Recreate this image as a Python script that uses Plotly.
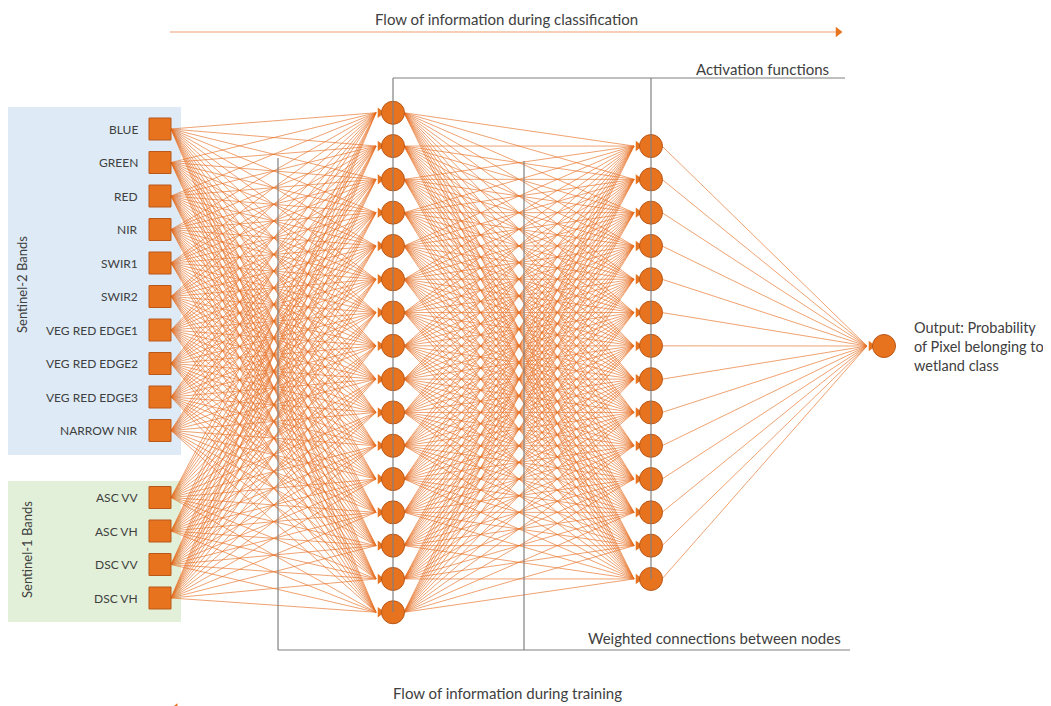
"""Neural network diagram: Sentinel-1/2 bands -> two hidden layers -> wetland probability."""
import plotly.graph_objects as go

# ---- data -----------------------------------------------------------------
s2_bands = ["BLUE", "GREEN", "RED", "NIR", "SWIR1", "SWIR2",
            "VEG RED EDGE1", "VEG RED EDGE2", "VEG RED EDGE3", "NARROW NIR"]
s1_bands = ["ASC VV", "ASC VH", "DSC VV", "DSC VH"]
hidden1_nodes = 16
hidden2_nodes = 14
output_label = "Output: Probability<br>of Pixel belonging to<br>wetland class"
group_labels = ["Sentinel-2 Bands", "Sentinel-1 Bands"]
top_caption = "Flow of information during classification"
bottom_caption = "Flow of information during training"
activation_caption = "Activation functions"
weights_caption = "Weighted connections between nodes"

# ---- layout helpers --------------------------------------------------------
ORANGE = "#E8731F"
ORANGE_EDGE = "#B9581A"
EDGE_LINE = "rgba(230,112,35,0.72)"
GRAY = "#808080"
TXT = "#404040"
FONT = "Lato, Open Sans, Arial"

W, H = 1051, 706
PAD = 8  # page body margin
X_IN, X_H1, X_H2, X_OUT = 160, 393, 651, 884
STEP = 33.3
MID = 362.5

in_labels = s2_bands + s1_bands
in_slots = list(range(len(s2_bands))) + [len(s2_bands) + 1 + i for i in range(len(s1_bands))]
y_in = [129 + 33.5 * s for s in in_slots]
y_h1 = [MID + (i - (hidden1_nodes - 1) / 2) * STEP for i in range(hidden1_nodes)]
y_h2 = [MID + (i - (hidden2_nodes - 1) / 2) * STEP for i in range(hidden2_nodes)]
y_out = [346]


def links(x0, ys0, x1, ys1):
    xs, ys = [], []
    for a in ys0:
        for b in ys1:
            xs += [x0, x1, None]
            ys += [a, b, None]
    return xs, ys


fig = go.Figure()

# group boxes
fig.add_shape(type="rect", x0=8, x1=181, y0=107, y1=455,
              fillcolor="#DEEBF7", line_width=0, layer="below")
fig.add_shape(type="rect", x0=8, x1=181, y0=481, y1=622,
              fillcolor="#E2F0D9", line_width=0, layer="below")

# connections
cx, cy = [], []
for x0, ys0, x1, ys1 in [(X_IN + 11, y_in, X_H1 - 17, y_h1),
                         (X_H1 + 11, y_h1, X_H2 - 17, y_h2),
                         (X_H2 + 11, y_h2, X_OUT - 17, y_out)]:
    xs, ys = links(x0, ys0, x1, ys1)
    cx += xs
    cy += ys
fig.add_trace(go.Scatter(x=cx, y=cy, mode="lines",
                         line=dict(color=EDGE_LINE, width=0.9),
                         hoverinfo="skip"))

# arrow heads in front of the target nodes
ax = [X_H1 - 13] * hidden1_nodes + [X_H2 - 13] * hidden2_nodes + [X_OUT - 13]
ay = y_h1 + y_h2 + y_out
fig.add_trace(go.Scatter(x=ax, y=ay, mode="markers",
                         marker=dict(symbol="triangle-right", size=9, color=ORANGE,
                                     line=dict(width=0)),
                         hoverinfo="skip"))

# input squares
fig.add_trace(go.Scatter(x=[X_IN] * len(y_in), y=y_in, mode="markers",
                         marker=dict(symbol="square", size=22, color=ORANGE,
                                     line=dict(color=ORANGE_EDGE, width=1)),
                         hoverinfo="skip"))

# hidden + output circles
nx = [X_H1] * hidden1_nodes + [X_H2] * hidden2_nodes + [X_OUT]
fig.add_trace(go.Scatter(x=nx, y=ay, mode="markers",
                         marker=dict(symbol="circle", size=23, color=ORANGE,
                                     line=dict(color=ORANGE_EDGE, width=1)),
                         hoverinfo="skip"))

# gray brackets
gray = dict(color=GRAY, width=1.2)
for x0, y0, x1, y1 in [(X_H1, 78, 845, 78), (X_H1, 78, X_H1, y_h1[-1]),
                       (X_H2, 78, X_H2, y_h2[-1]),
                       (278, 650, 850, 650), (278, 158, 278, 650), (524, 161, 524, 650)]:
    fig.add_shape(type="line", x0=x0, y0=y0, x1=x1, y1=y1, line=gray)

# flow arrows
fig.add_shape(type="line", x0=170, y0=32, x1=836, y1=32,
              line=dict(color="#F0A070", width=1.2))
fig.add_trace(go.Scatter(x=[838], y=[32], mode="markers",
                         marker=dict(symbol="triangle-right", size=9, color=ORANGE),
                         hoverinfo="skip"))
fig.add_trace(go.Scatter(x=[176, 840], y=[709, 709], mode="lines",
                         line=dict(color="#F0A070", width=1.2), hoverinfo="skip"))
fig.add_trace(go.Scatter(x=[175], y=[709], mode="markers",
                         marker=dict(symbol="triangle-left", size=10, color=ORANGE),
                         hoverinfo="skip"))

# texts
for lab, y in zip(in_labels, y_in):
    fig.add_annotation(x=140, y=y, text=lab, xanchor="right", yanchor="middle",
                       showarrow=False, font=dict(size=12, color=TXT))
fig.add_annotation(x=22, y=285, text=group_labels[0], textangle=-90,
                   showarrow=False, font=dict(size=13, color=TXT))
fig.add_annotation(x=27, y=550, text=group_labels[1], textangle=-90,
                   showarrow=False, font=dict(size=13, color=TXT))
fig.add_annotation(x=912, y=346, text=output_label, xanchor="left", align="left",
                   showarrow=False, font=dict(size=14.5, color=TXT))
fig.add_annotation(x=506, y=19, text=top_caption, showarrow=False,
                   font=dict(size=15, color=TXT))
fig.add_annotation(x=507, y=693, text=bottom_caption, showarrow=False,
                   font=dict(size=15, color=TXT))
fig.add_annotation(x=831, y=69, text=activation_caption, xanchor="right",
                   showarrow=False, font=dict(size=15, color=TXT))
fig.add_annotation(x=843, y=638, text=weights_caption, xanchor="right",
                   showarrow=False, font=dict(size=15, color=TXT))

# the page body adds an 8px margin: shrink the figure and shift the ranges
fig.update_xaxes(range=[PAD, W], visible=False, fixedrange=True)
fig.update_yaxes(range=[H, PAD], visible=False, fixedrange=True)
fig.update_layout(width=W - PAD, height=H - PAD, margin=dict(l=0, r=0, t=0, b=0),
                  paper_bgcolor="white", plot_bgcolor="white",
                  showlegend=False, font=dict(family=FONT, color=TXT))
fig.write_html("out.html")
